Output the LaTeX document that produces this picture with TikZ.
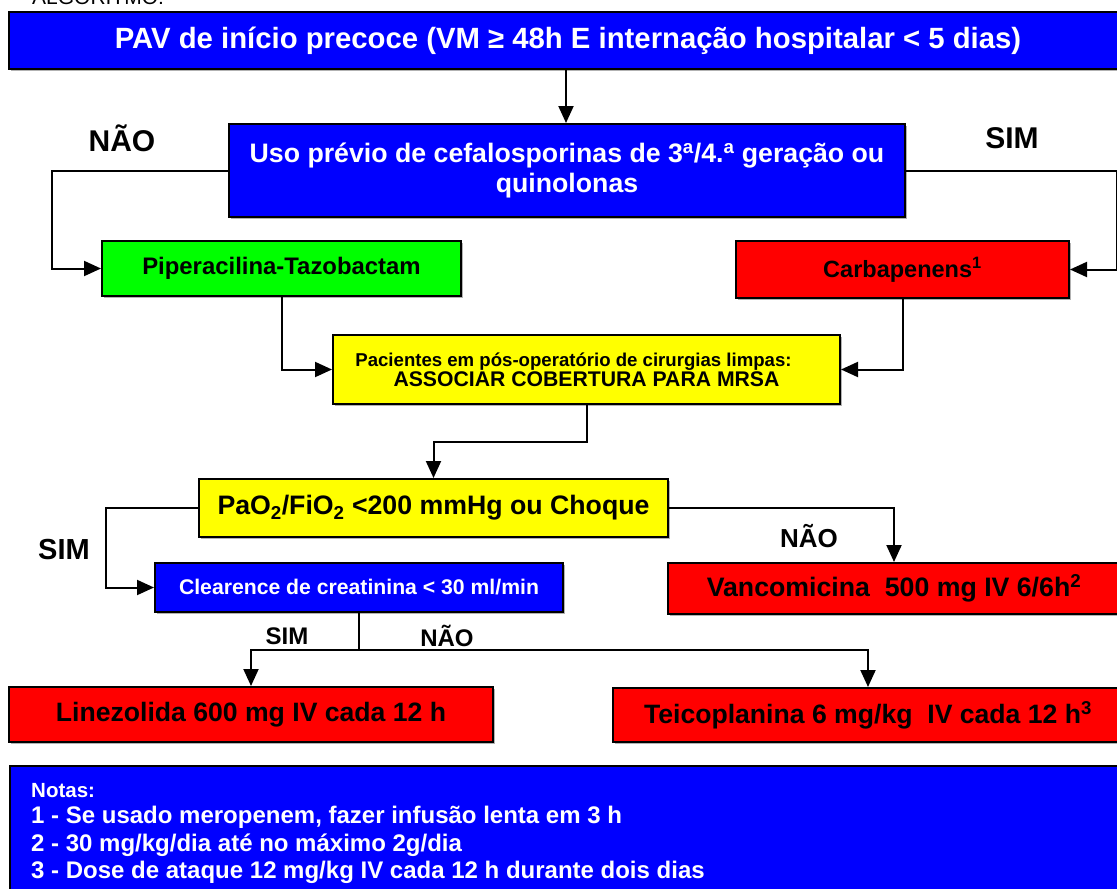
\documentclass[tikz,border=0pt]{standalone}
\usepackage{fontspec}
\setmainfont{Liberation Sans}
\usetikzlibrary{arrows.meta,shadows,calc}
\newcommand{\fs}[1]{\fontsize{#1}{#1}\selectfont}
\tikzset{
  box/.style={draw=black, line width=2pt, inner sep=0pt, align=center,
    font=\bfseries,
    drop shadow={shadow xshift=2pt, shadow yshift=-2pt, fill=black!30, opacity=1}},
  arr/.style={line width=2pt, -{Triangle[length=17pt,width=15pt]}},
  conn/.style={line width=2pt},
  lbl/.style={font=\bfseries, inner sep=0pt, text=black},
  note/.style={font=\bfseries, text=white, inner sep=0pt, anchor=base west}
}
\definecolor{pblue}{RGB}{0,0,255}
\definecolor{pgreen}{RGB}{0,255,0}
\definecolor{pred}{RGB}{255,0,0}
\definecolor{pyellow}{RGB}{255,255,0}
\begin{document}
\begin{tikzpicture}[x=1pt,y=-1pt]
\useasboundingbox (0,0) rectangle (1117,889);

\node[anchor=base west, inner sep=0pt, font=\fs{21}] (alg) at (32,4) {ALGORITMO:};

\node[box, fill=pblue, text=white, minimum width=1118pt, minimum height=57pt, font=\bfseries\fs{29.3}] (title) at (568,40.5)
  {PAV de início precoce (VM ≥ 48h E internação hospitalar < 5 dias)};

\node[box, fill=pblue, text=white, minimum width=676pt, minimum height=93pt, font=\bfseries\fontsize{26.7}{30}\selectfont] (q1) at (567,170.5)
  {Uso prévio de cefalosporinas de 3\textsuperscript{a}/4.\textsuperscript{a} geração ou\\quinolonas};

\node[box, fill=pgreen, minimum width=359pt, minimum height=55pt, font=\bfseries\fs{23.9}] (pip) at (281.5,268.5)
  {Piperacilina-Tazobactam};

\node[box, fill=pred, minimum width=333pt, minimum height=57pt, font=\bfseries\fs{23.5}] (carb) at (902.5,269.5)
  {Carbapenens\textsuperscript{1}};

\node[box, fill=pyellow, minimum width=507pt, minimum height=69pt] (mrsa) at (586.5,369.5)
  {{\fontsize{18.6}{27}\selectfont Pacientes em pós-operatório de cirurgias limpas:\hspace*{26pt}}\\
   {\fontsize{21.2}{27}\selectfont ASSOCIAR COBERTURA PARA MRSA}};

\node[box, fill=pyellow, minimum width=469pt, minimum height=58pt, font=\bfseries\fs{26.7}] (pao) at (433.5,508)
  {PaO\textsubscript{2}/FiO\textsubscript{2} <200 mmHg ou Choque};

\node[box, fill=pblue, text=white, minimum width=408pt, minimum height=49pt, font=\bfseries\fs{21.2}] (clear) at (359,587.5)
  {Clearence de creatinina < 30 ml/min};

\node[box, fill=pred, minimum width=452pt, minimum height=51pt, font=\bfseries\fs{26.7}] (vanc) at (894,588.5)
  {Vancomicina\ \ 500 mg IV 6/6h\textsuperscript{2}};

\node[box, fill=pred, minimum width=484pt, minimum height=55pt, font=\bfseries\fs{26.6}] (line) at (251,714.5)
  {Linezolida 600 mg IV cada 12 h};

\node[box, fill=pred, minimum width=510pt, minimum height=54pt, font=\bfseries\fs{26.6}] (teic) at (868,715)
  {Teicoplanina 6 mg/kg\ \ IV cada 12 h\textsuperscript{3}};

\node[box, fill=pblue, minimum width=1116pt, minimum height=130pt, anchor=north west] (notes) at (9,765) {};
\node[note, font=\bfseries\fs{20.5}] (n0) at (31,797) {Notas:};
\node[note, font=\bfseries\fs{24}] (n1) at (31,823.6) {1 - Se usado meropenem, fazer infusão lenta em 3 h};
\node[note, font=\bfseries\fs{24}] (n2) at (31,851.6) {2 - 30 mg/kg/dia até no máximo 2g/dia};
\node[note, font=\bfseries\fs{24}] (n3) at (31,878.6) {3 - Dose de ataque 12 mg/kg IV cada 12 h durante dois dias};

% labels
\node[lbl, font=\bfseries\fs{30}] (l1) at (122,138) {NÃO};
\node[lbl, font=\bfseries\fs{30}] (l2) at (1012,138) {SIM};
\node[lbl, font=\bfseries\fs{29}] (l3) at (64,550) {SIM};
\node[lbl, font=\bfseries\fs{26}] (l4) at (809,536) {NÃO};
\node[lbl, font=\bfseries\fs{24}] (l5) at (287,636) {SIM};
\node[lbl, font=\bfseries\fs{24}] (l6) at (447,636) {NÃO};

% connectors
\draw[arr] (title.south -| 566,0) -- (q1.north -| 566,0);
\draw[arr] (q1.west) -- ++(-176,0) |- (pip.west);
\draw[arr] (q1.east) -- ++(211,0) |- (carb.east);
\draw[arr] (pip.south) |- (mrsa.west);
\draw[arr] (carb.south) |- (mrsa.east);
\draw[arr] (mrsa.south) -- ++(0,37) -| (pao.north);
\draw[arr] (pao.west) -- ++(-92,0) |- (clear.west);
\draw[arr] (pao.east) -| (vanc.north);
\coordinate (split) at ($(clear.south)+(0,37)$);
\draw[conn] (clear.south) -- (split);
\draw[arr] (split) -| (line.north);
\draw[arr] (split) -| (teic.north);
\end{tikzpicture}
\end{document}
